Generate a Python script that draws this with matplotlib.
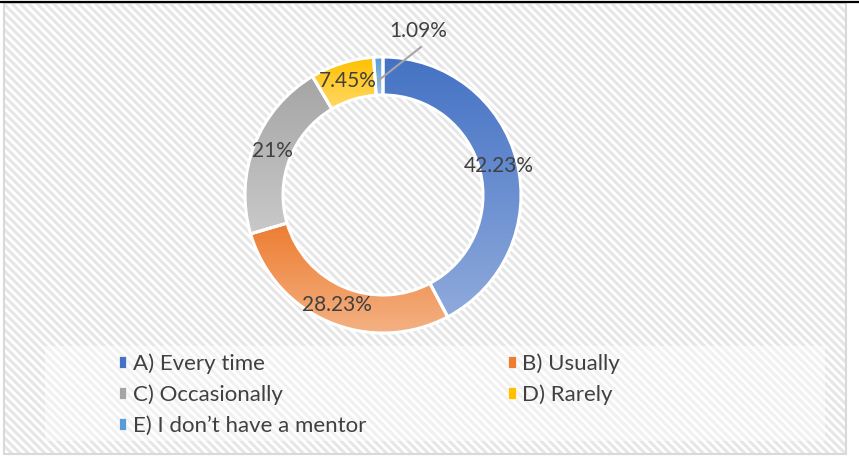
import numpy as np
import matplotlib
matplotlib.use('Agg')
import matplotlib.pyplot as plt
from matplotlib.patches import Rectangle, Patch
from matplotlib.colors import LinearSegmentedColormap

labels = ['A) Every time', 'B) Usually', 'C) Occasionally', 'D) Rarely', 'E) I don\u2019t have a mentor']
values = [42.23, 28.23, 21, 7.45, 1.09]
pct_text = ['42.23%', '28.23%', '21%', '7.45%', '1.09%']
top_colors = ['#4472C4', '#ED7D31', '#A5A5A5', '#FFC000', '#5B9BD5']
bottom_colors = ['#8FAADC', '#F4B183', '#C9C9C9', '#FFD966', '#9DC3E6']

plt.rcParams['font.family'] = ['Lato', 'DejaVu Sans']
plt.rcParams['hatch.linewidth'] = 2.2
text_color = '#404040'

W, H = 859, 457
fig = plt.figure(figsize=(W / 100, H / 100), dpi=100)
ax = fig.add_axes([0, 0, 1, 1])

cx, cy, R = 383, H - 195, 138
ring = 38

wedges, _ = ax.pie(values, startangle=90, counterclock=False, center=(cx, cy), radius=R,
                   colors=top_colors,
                   wedgeprops=dict(width=ring, edgecolor='white', linewidth=2.2))
ax.set_xlim(0, W)
ax.set_ylim(0, H)
ax.set_aspect('auto')
ax.axis('off')

# background: hatched chart area
bg = Rectangle((4, 3), 842, 451, facecolor='white', edgecolor='#e6e6e6', hatch='\\' * 4,
               linewidth=0, zorder=-10)
ax.add_patch(bg)
ax.add_patch(Rectangle((4, 3), 842, 451, facecolor='none', edgecolor='#d9d9d9', linewidth=1.5, zorder=-5))
ax.add_patch(Rectangle((45, H - 441), 780, 95, facecolor='white', alpha=0.45, linewidth=0, zorder=-8))
ax.plot([0, W], [H - 2, H - 2], color='black', linewidth=1.6, zorder=10, clip_on=False)

# gradient fill per slice
for w, c0, c1 in zip(wedges, top_colors, bottom_colors):
    ext = w.get_path().get_extents()
    cmap = LinearSegmentedColormap.from_list('g', [c0, c1])
    grad = np.linspace(1, 0, 256).reshape(-1, 1)
    im = ax.imshow(grad, cmap=cmap, extent=(ext.x0, ext.x1, ext.y0, ext.y1), origin='lower',
                   aspect='auto', interpolation='bilinear', zorder=2)
    im.set_clip_path(w)
    w.set_facecolor('none')
    w.set_zorder(3)
ax.set_xlim(0, W)
ax.set_ylim(0, H)

# data labels
mid_r = R - ring / 2
for i, w in enumerate(wedges):
    ang = np.deg2rad((w.theta1 + w.theta2) / 2)
    x = cx + mid_r * np.cos(ang)
    y = cy + mid_r * np.sin(ang)
    if i < 4:
        ax.text(x, y, pct_text[i], ha='center', va='center', fontsize=15, color=text_color, zorder=5)
    else:
        ax.text(418, H - 31, pct_text[i], ha='center', va='center', fontsize=15,
                color=text_color, zorder=5)
        # leader line from the thin slice to below its label
        ax.plot([x, 421], [y - 4, H - 47], color='#a6a6a6', lw=1.5, zorder=5)

# legend, row-first order
order = [0, 2, 4, 1, 3]
handles = [Patch(facecolor=top_colors[i], edgecolor='white', linewidth=0.5) for i in order]
leg = ax.legend(handles, [labels[i] for i in order], ncol=2, loc='upper left',
                bbox_to_anchor=(108 / W, 1 - 342 / H), frameon=False, fontsize=16,
                handlelength=0.32, handleheight=0.45, handletextpad=0.3,
                labelspacing=0.48, columnspacing=6.4, borderpad=0)
for t in leg.get_texts():
    t.set_color(text_color)

fig.savefig('out.png', dpi=100)
